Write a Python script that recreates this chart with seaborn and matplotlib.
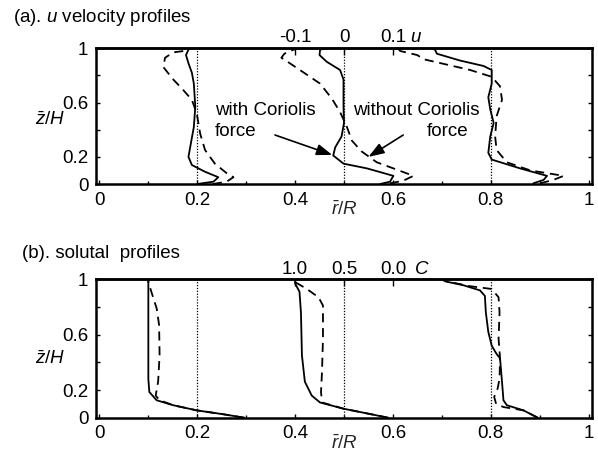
import matplotlib
matplotlib.use("Agg")
import matplotlib.pyplot as plt
import matplotlib.transforms as mtransforms
import pandas as pd
import seaborn as sns

# ---------------------------------------------------------------------------
# Data: profiles at three radial stations r/R = 0.2, 0.5, 0.8
# ---------------------------------------------------------------------------
STATIONS = [0.2, 0.5, 0.8]

# u velocity profiles (u, offset about each station)
Z_U_IN_WITH = [0.0, 0.017, 0.05, 0.09, 0.14, 0.20, 0.30, 0.42, 0.57, 0.74, 0.82, 0.89, 0.95, 0.99, 1.0]
U_IN_WITH = [0.0, 0.033, 0.043, 0.016, -0.011, -0.018, -0.013, -0.007, -0.004, -0.007, -0.011, -0.018, -0.023, -0.018, -0.016]
Z_U_IN_WITHOUT = [0.0, 0.017, 0.05, 0.08, 0.15, 0.25, 0.37, 0.52, 0.62, 0.69, 0.77, 0.86, 0.93, 0.97, 0.98, 1.0]
U_IN_WITHOUT = [0.032, 0.06, 0.074, 0.06, 0.036, 0.016, 0.006, -0.001, -0.011, -0.028, -0.049, -0.069, -0.066, -0.049, -0.028, -0.02]

Z_U_MID_WITH = [0.0, 0.017, 0.06, 0.115, 0.15, 0.21, 0.27, 0.35, 0.45, 0.57, 0.77, 0.84, 0.90, 0.95, 0.99, 1.0]
U_MID_WITH = [0.074, 0.094, 0.101, 0.047, -0.001, -0.022, -0.018, -0.005, 0.0, -0.001, -0.001, -0.008, -0.035, -0.05, -0.049, -0.035]
Z_U_MID_WITHOUT = [0.005, 0.024, 0.06, 0.115, 0.16, 0.24, 0.32, 0.42, 0.53, 0.63, 0.74, 0.83, 0.90, 0.93, 0.96, 0.99, 1.0]
U_MID_WITHOUT = [0.094, 0.121, 0.142, 0.101, 0.067, 0.036, 0.016, 0.006, -0.008, -0.025, -0.049, -0.086, -0.115, -0.128, -0.122, -0.103, -0.09]

Z_U_OUT_WITH = [0.005, 0.03, 0.06, 0.115, 0.18, 0.23, 0.35, 0.45, 0.55, 0.64, 0.74, 0.84, 0.87, 0.91, 0.96, 0.99, 1.0]
U_OUT_WITH = [0.087, 0.108, 0.115, 0.06, 0.002, -0.005, -0.001, 0.006, -0.001, -0.005, 0.002, 0.002, -0.015, -0.063, -0.11, -0.114, -0.12]
Z_U_OUT_WITHOUT = [0.005, 0.03, 0.06, 0.10, 0.16, 0.25, 0.35, 0.50, 0.62, 0.72, 0.79, 0.84, 0.88, 0.92, 0.95, 0.98, 1.0]
U_OUT_WITHOUT = [0.101, 0.128, 0.149, 0.081, 0.033, 0.012, 0.009, 0.012, 0.023, 0.019, 0.002, -0.042, -0.09, -0.138, -0.15, -0.185, -0.19]

# solutal profiles (concentration C)
Z_C_IN_WITH = [0.0, 0.025, 0.053, 0.09, 0.126, 0.186, 0.28, 0.45, 0.81, 1.0]
C_IN_WITH = [0.02, 0.235, 0.505, 0.745, 0.915, 0.99, 1.0, 1.0, 1.0, 1.0]
Z_C_IN_WITHOUT = [0.0, 0.025, 0.053, 0.09, 0.126, 0.16, 0.26, 0.45, 0.67, 0.79, 0.90, 0.98, 1.0]
C_IN_WITHOUT = [0.02, 0.235, 0.505, 0.745, 0.885, 0.925, 0.90, 0.885, 0.89, 0.915, 0.965, 1.0, 1.0]

Z_C_MID_WITH = [0.0, 0.036, 0.065, 0.11, 0.16, 0.26, 0.45, 0.76, 0.91, 0.97, 1.0]
C_MID_WITH = [0.05, 0.30, 0.505, 0.745, 0.83, 0.90, 0.93, 0.94, 0.955, 1.0, 1.0]
Z_C_MID_WITHOUT = [0.0, 0.036, 0.065, 0.11, 0.186, 0.33, 0.57, 0.81, 0.87, 0.93, 0.98, 1.0]
C_MID_WITHOUT = [0.05, 0.30, 0.505, 0.725, 0.735, 0.725, 0.715, 0.715, 0.76, 0.88, 1.0, 1.0]

Z_C_OUT_WITH = [0.0, 0.053, 0.09, 0.126, 0.26, 0.43, 0.46, 0.52, 0.62, 0.76, 0.88, 0.92, 0.957, 0.985, 1.0]
C_OUT_WITH = [0.02, 0.165, 0.335, 0.37, 0.385, 0.405, 0.44, 0.49, 0.525, 0.55, 0.56, 0.61, 0.78, 0.965, 1.0]
Z_C_OUT_WITHOUT = [0.0, 0.053, 0.077, 0.10, 0.15, 0.21, 0.28, 0.43, 0.57, 0.76, 0.87, 0.93, 0.95, 0.985, 1.0]
C_OUT_WITHOUT = [0.02, 0.165, 0.37, 0.445, 0.465, 0.43, 0.41, 0.405, 0.42, 0.41, 0.42, 0.49, 0.71, 0.95, 1.0]

X_TICKS = [0, 0.2, 0.4, 0.6, 0.8, 1]
X_TICK_LABELS = ["0", "0.2", "0.4", "0.6", "0.8", "1"]
Y_TICKS = [0, 0.2, 0.4, 0.6, 0.8, 1]
Y_TICK_LABELS = ["0", "0.2", "", "0.6", "", "1"]
U_TOP_TICKS = [-0.1, 0.0, 0.1]
U_TOP_LABELS = ["-0.1", "0", "0.1"]
C_TOP_TICKS = [1.0, 0.5, 0.0]
C_TOP_LABELS = ["1.0", "0.5", "0.0"]

# scale of each profile variable on the r/R axis
U_SCALE = 1.0          # r = station + u
C_SCALE = -0.2         # r = station + 0.1 - 0.2 C
C_SHIFT = 0.1


def long_frame(series, to_r):
    rows = []
    for station, case, zs, vals in series:
        for z, v in zip(zs, vals):
            rows.append({"profile": f"{case} @ {station}", "case": case,
                         "z": z, "r": to_r(station, v)})
    return pd.DataFrame(rows)


u_df = long_frame([
    (STATIONS[0], "with", Z_U_IN_WITH, U_IN_WITH),
    (STATIONS[0], "without", Z_U_IN_WITHOUT, U_IN_WITHOUT),
    (STATIONS[1], "with", Z_U_MID_WITH, U_MID_WITH),
    (STATIONS[1], "without", Z_U_MID_WITHOUT, U_MID_WITHOUT),
    (STATIONS[2], "with", Z_U_OUT_WITH, U_OUT_WITH),
    (STATIONS[2], "without", Z_U_OUT_WITHOUT, U_OUT_WITHOUT),
], lambda s, u: s + U_SCALE * u)

c_df = long_frame([
    (STATIONS[0], "with", Z_C_IN_WITH, C_IN_WITH),
    (STATIONS[0], "without", Z_C_IN_WITHOUT, C_IN_WITHOUT),
    (STATIONS[1], "with", Z_C_MID_WITH, C_MID_WITH),
    (STATIONS[1], "without", Z_C_MID_WITHOUT, C_MID_WITHOUT),
    (STATIONS[2], "with", Z_C_OUT_WITH, C_OUT_WITH),
    (STATIONS[2], "without", Z_C_OUT_WITHOUT, C_OUT_WITHOUT),
], lambda s, c: s + C_SHIFT + C_SCALE * c)

# ---------------------------------------------------------------------------
# Style
# ---------------------------------------------------------------------------
sns.set_theme(style="ticks")
FS = 13.5
plt.rcParams.update({
    "font.family": ["Liberation Sans", "DejaVu Sans"],
    "font.size": FS,
    "mathtext.fontset": "custom",
    "mathtext.rm": "Liberation Sans",
    "mathtext.it": "Liberation Sans:italic",
    "mathtext.bf": "Liberation Sans:bold",
    "axes.linewidth": 1.8,
    "axes.edgecolor": "black",
    "text.color": "black",
    "xtick.color": "black",
    "ytick.color": "black",
})

W, H = 598, 453
fig = plt.figure(figsize=(W / 100, H / 100), dpi=100)
ax_u = fig.add_axes([96 / W, 1 - 184 / H, 496 / W, 135.7 / H])
ax_c = fig.add_axes([96 / W, 1 - 417.7 / H, 496 / W, 138.4 / H])

DASHES = {"with": "", "without": (5, 3.2)}


def draw_panel(ax, df, top_fwd, top_inv, top_ticks, top_labels, top_name,
               top_name_r, top_pad, zlabel_y):
    sns.lineplot(data=df, x="r", y="z", units="profile", style="case",
                 estimator=None, sort=False, color="black", lw=1.3,
                 dashes=DASHES, legend=False, ax=ax)
    for s in STATIONS:
        ax.axvline(s, color="black", lw=0.9, ls=(0, (1, 1.3)), zorder=1)
    ax.set_xlim(-0.007, 1.007)
    ax.set_ylim(0, 1)
    ax.set_xticks(X_TICKS)
    ax.set_xticklabels(X_TICK_LABELS)
    ax.set_xticks([0.1, 0.3, 0.5, 0.7, 0.9], minor=True)
    ax.set_yticks(Y_TICKS)
    ax.set_yticklabels(Y_TICK_LABELS)
    ax.tick_params(axis="both", which="both", direction="in", length=3,
                   width=1.0, labelsize=FS, pad=5.5, right=True)
    ax.tick_params(axis="x", which="minor", length=2)
    ax.set_xlabel(r"$\bar{r}/R$", fontsize=FS, labelpad=-6)
    ax.set_ylabel("")
    ax.text(-0.092, zlabel_y, r"$\bar{z}/H$", transform=ax.transAxes,
            ha="center", va="center", fontsize=FS)

    top = ax.secondary_xaxis("top", functions=(top_fwd, top_inv))
    top.set_xticks(top_ticks)
    top.set_xticklabels(top_labels)
    top.tick_params(direction="in", length=5, width=1.0, labelsize=FS,
                    pad=top_pad)
    top.spines["top"].set_linewidth(1.8)
    trans = mtransforms.blended_transform_factory(ax.transData, ax.transAxes)
    off = mtransforms.offset_copy(trans, fig=fig, y=top_pad, units="points")
    ax.text(top_name_r, 1.0, top_name, transform=off, ha="center",
            va="bottom", fontsize=FS, style="italic")


mid = STATIONS[1]
draw_panel(ax_u, u_df,
           lambda r: (r - mid) / U_SCALE, lambda u: mid + U_SCALE * u,
           U_TOP_TICKS, U_TOP_LABELS, "u", 0.645, 2.0, 0.47)
draw_panel(ax_c, c_df,
           lambda r: (r - mid - C_SHIFT) / C_SCALE,
           lambda c: mid + C_SHIFT + C_SCALE * c,
           C_TOP_TICKS, C_TOP_LABELS, "C", 0.658, 1.0, 0.42)

# labels pointing at the mid-station velocity profiles
ax_u.text(0.236, 0.538, "with Coriolis", ha="left", va="center", fontsize=FS)
ax_u.text(0.236, 0.39, "force", ha="left", va="center", fontsize=FS)
ax_u.text(0.518, 0.538, "without Coriolis", ha="left", va="center", fontsize=FS)
ax_u.text(0.67, 0.39, "force", ha="left", va="center", fontsize=FS)
arrow = dict(arrowstyle="-|>,head_length=0.7,head_width=0.25", color="black",
             lw=1.2, shrinkA=0, shrinkB=0)
ax_u.annotate("", xy=(0.476, 0.214), xytext=(0.359, 0.361), arrowprops=arrow)
ax_u.annotate("", xy=(0.55, 0.20), xytext=(0.621, 0.361), arrowprops=arrow)

fig.text(13 / W, 1 - 17.5 / H, r"(a). $\mathit{u}$ velocity profiles",
         ha="left", va="center", fontsize=FS)
fig.text(22 / W, 1 - 253 / H, "(b). solutal  profiles",
         ha="left", va="center", fontsize=FS)

fig.savefig("out.png", dpi=100)
